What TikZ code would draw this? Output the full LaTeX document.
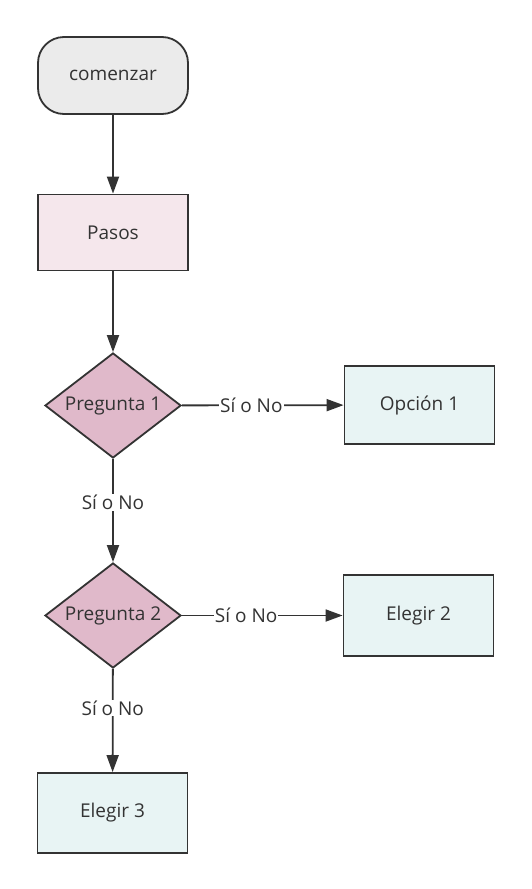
\documentclass[tikz,border=0pt]{standalone}
\usepackage{fontspec}
\setmainfont{Open Sans}
\usetikzlibrary{arrows.meta,shapes.geometric}
\definecolor{edgegray}{HTML}{333333}
\definecolor{startfill}{HTML}{EBEBEB}
\definecolor{stepfill}{HTML}{F5E7EC}
\definecolor{askfill}{HTML}{E0B9CA}
\definecolor{pickfill}{HTML}{E8F4F4}
\tikzset{
  startbox/.style={draw=edgegray, line width=1.8pt, fill=startfill, rounded corners=26pt, minimum width=150pt, minimum height=77pt},
  stepbox/.style={draw=edgegray, line width=1.8pt, fill=stepfill, minimum width=150pt, minimum height=76pt},
  askbox/.style={draw=edgegray, line width=1.8pt, fill=askfill, diamond, aspect=1.3, inner sep=0pt, minimum width=136pt, minimum height=105pt},
  pickbox/.style={draw=edgegray, line width=1.8pt, fill=pickfill, minimum width=150pt, minimum height=78pt},
  flow/.style={draw=edgegray, line width=1.8pt, -{Triangle[length=17pt,width=12pt]}},
  answer/.style={fill=white, inner sep=1pt, text=edgegray}
}
\begin{document}
\begin{tikzpicture}[x=1pt, y=-1pt, font=\fontsize{19}{22}\selectfont, text=edgegray]
\useasboundingbox (0,0) rectangle (531,889);
\node[startbox] (start) at (113,75.5){comenzar};
\node[stepbox] (pasos) at (113,232.5){Pasos};
\node[askbox] (ask1) at (113,405.5){Pregunta 1};
\node[pickbox] (opt1) at (419.5,405){Opción 1};
\node[askbox] (ask2) at (113,615.5){Pregunta 2};
\node[pickbox, minimum height=81pt] (opt2) at (418.5,615.5){Elegir 2};
\node[pickbox, minimum height=80pt] (opt3) at (112.5,813){Elegir 3};
\draw[flow](start) -- (pasos);
\draw[flow](pasos) -- (ask1);
\draw[flow](ask1) -- node[answer, pos=0.43]{Sí o No} (opt1);
\draw[flow](ask1) -- node[answer, pos=0.42]{Sí o No} (ask2);
\draw[flow](ask2) -- node[answer, pos=0.40]{Sí o No} (opt2);
\draw[flow](ask2) -- node[answer, pos=0.38]{Sí o No} (opt3);
\end{tikzpicture}
\end{document}
